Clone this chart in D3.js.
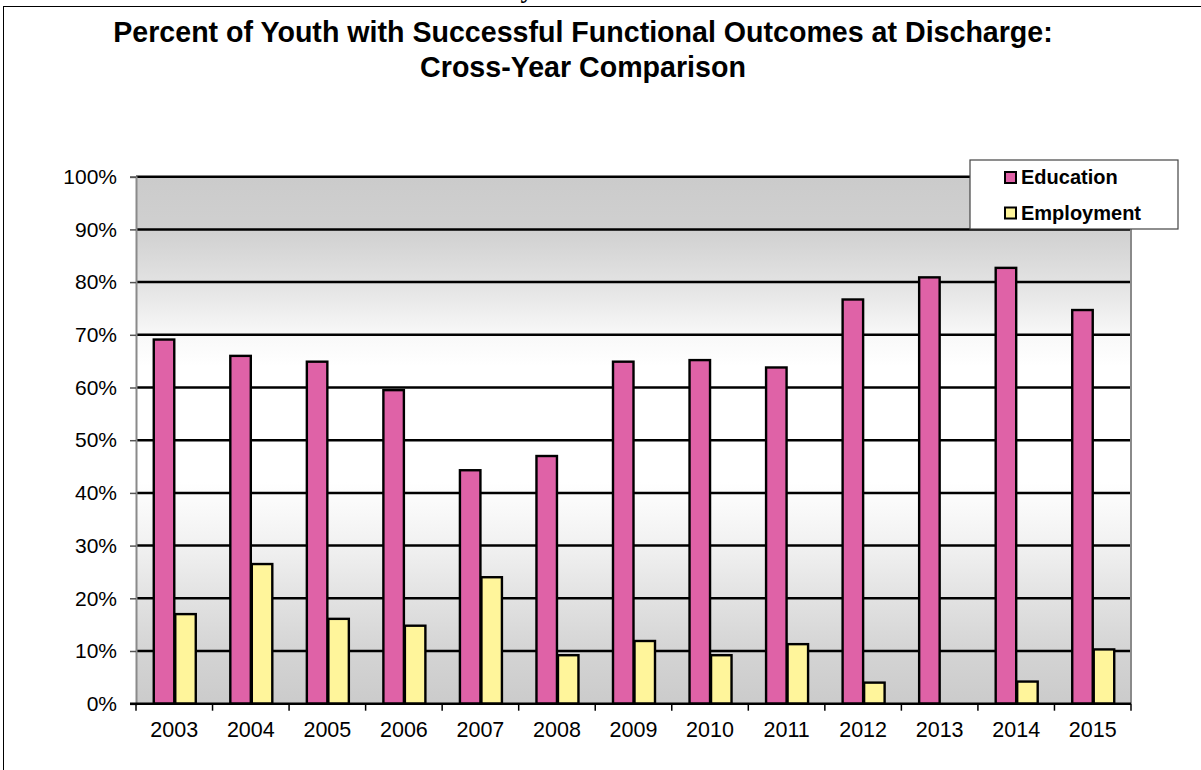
<!DOCTYPE html>
<html>
<head>
<meta charset="utf-8">
<script src="https://cdn.jsdelivr.net/npm/d3@7/dist/d3.min.js"></script>
<style>
  html, body { margin: 0; padding: 0; background: #ffffff; }
  svg { display: block; }
</style>
</head>
<body>
<svg id="chart" width="1201" height="770"></svg>
<script>
// Youth outcomes at discharge, by year
const years = ["2003","2004","2005","2006","2007","2008","2009","2010","2011","2012","2013","2014","2015"];
const education  = [69.1, 66.0, 64.9, 59.5, 44.3, 47.0, 64.9, 65.2, 63.8, 76.7, 80.9, 82.7, 74.7];
const employment = [17.0, 26.5, 16.1, 14.8, 24.0, 9.2, 11.9, 9.2, 11.3, 4.0, null, 4.2, 10.3];
const seriesNames = ["Education", "Employment"];
const seriesColors = ["#DF62A7", "#FFF59B"];
const yTicks = [0, 10, 20, 30, 40, 50, 60, 70, 80, 90, 100];
const titleLines = ["Percent of Youth with Successful Functional Outcomes at Discharge:", "Cross-Year Comparison"];

const svg = d3.select("#chart");
const font = "'Liberation Sans', Arial, sans-serif";

const plot = { left: 136, right: 1131, top: 176.7, bottom: 703.7 };

const x = d3.scaleBand().domain(years).range([plot.left, plot.right]).paddingInner(0).paddingOuter(0);
const xs = d3.scaleBand().domain(seriesNames).range([0, x.bandwidth()]).paddingInner(0).paddingOuter(0.78);
const y = d3.scaleLinear().domain([0, 100]).range([plot.bottom, plot.top]);

// page frame and the clipped heading fragment above it
svg.append("text").attr("x", 527).attr("y", -2).attr("text-anchor", "middle")
  .attr("font-family", "'Liberation Serif', serif").attr("font-weight", "bold").attr("font-size", 26)
  .text("y");
svg.append("rect").attr("x", 3.5).attr("y", 6.5).attr("width", 1250).attr("height", 800)
  .attr("fill", "none").attr("stroke", "#000").attr("stroke-width", 1);

// title
svg.append("g").selectAll("text").data(titleLines).join("text")
  .attr("x", 583).attr("y", (d, i) => 42 + i * 35)
  .attr("text-anchor", "middle")
  .attr("font-family", font).attr("font-weight", "bold").attr("font-size", 28.6)
  .text(d => d);

// plot background gradient
const defs = svg.append("defs");
const grad = defs.append("linearGradient").attr("id", "plotBg").attr("x1", 0).attr("y1", 0).attr("x2", 0).attr("y2", 1);
[[0, "#cbcbcb"], [0.1, "#d0d0d0"], [0.2, "#e2e2e2"], [0.3, "#f8f8f8"], [0.36, "#ffffff"], [0.58, "#ffffff"], [0.7, "#f1f1f1"], [0.8, "#e2e2e2"], [0.9, "#d4d4d4"], [1, "#cbcbcb"]]
  .forEach(([o, c]) => grad.append("stop").attr("offset", o).attr("stop-color", c));

svg.append("rect")
  .attr("x", plot.left).attr("y", plot.top)
  .attr("width", plot.right - plot.left).attr("height", plot.bottom - plot.top)
  .attr("fill", "url(#plotBg)");

// horizontal gridlines
svg.append("g").selectAll("line").data(yTicks.filter(t => t > 0)).join("line")
  .attr("x1", plot.left).attr("x2", plot.right)
  .attr("y1", d => y(d)).attr("y2", d => y(d))
  .attr("stroke", "#000").attr("stroke-width", 2.5);

// right edge of plot area
svg.append("line").attr("x1", plot.right).attr("x2", plot.right)
  .attr("y1", plot.top).attr("y2", plot.bottom)
  .attr("stroke", "#8a8a8a").attr("stroke-width", 2);

// bars
const rows = years.map((yr, i) => ({ year: yr, values: [education[i], employment[i]] }));
const groups = svg.append("g").selectAll("g").data(rows).join("g")
  .attr("transform", d => `translate(${x(d.year)},0)`);
groups.selectAll("rect")
  .data(d => d.values.map((v, j) => ({ name: seriesNames[j], value: v, j })).filter(e => e.value != null))
  .join("rect")
  .attr("x", d => xs(d.name) + 1)
  .attr("width", xs.bandwidth() - 1)
  .attr("y", d => y(d.value))
  .attr("height", d => y(0) - y(d.value))
  .attr("fill", d => seriesColors[d.j])
  .attr("stroke", "#000").attr("stroke-width", 2.4);

// y axis
const yAxis = svg.append("g").attr("transform", `translate(${plot.left},0)`)
  .call(d3.axisLeft(y).tickValues(yTicks).tickSize(6).tickPadding(13).tickFormat(d => d + "%"));
yAxis.select(".domain").attr("stroke", "#8a8a8a").attr("stroke-width", 2);
yAxis.selectAll(".tick line").attr("stroke", "#555").attr("stroke-width", 1.5);
yAxis.selectAll(".tick text").attr("font-family", font).attr("font-size", 21).attr("fill", "#000");

// x axis
const xAxis = svg.append("g").attr("transform", `translate(0,${plot.bottom})`)
  .call(d3.axisBottom(x).tickSize(0).tickPadding(18));
xAxis.select(".domain").remove();
xAxis.selectAll(".tick text").attr("font-family", font).attr("font-size", 21.5).attr("fill", "#000");
svg.append("line").attr("x1", plot.left - 6).attr("x2", plot.right)
  .attr("y1", plot.bottom).attr("y2", plot.bottom)
  .attr("stroke", "#000").attr("stroke-width", 2.5);
svg.append("g").selectAll("line").data(years.concat(["end"])).join("line")
  .attr("x1", (d, i) => plot.left + i * x.step()).attr("x2", (d, i) => plot.left + i * x.step())
  .attr("y1", plot.bottom).attr("y2", plot.bottom + 7)
  .attr("stroke", "#000").attr("stroke-width", 1.5);

// legend
const legend = svg.append("g").attr("transform", "translate(970,160)");
legend.append("rect").attr("width", 208).attr("height", 69)
  .attr("fill", "#fff").attr("stroke", "#444").attr("stroke-width", 1.2);
const items = legend.selectAll("g").data(seriesNames).join("g")
  .attr("transform", (d, i) => `translate(35,${12 + i * 35.5})`);
items.append("rect").attr("width", 11).attr("height", 11)
  .attr("fill", (d, i) => seriesColors[i]).attr("stroke", "#000").attr("stroke-width", 2);
items.append("text").attr("x", 16).attr("y", 12)
  .attr("font-family", font).attr("font-weight", "bold").attr("font-size", 20)
  .text(d => d);
</script>
</body>
</html>
